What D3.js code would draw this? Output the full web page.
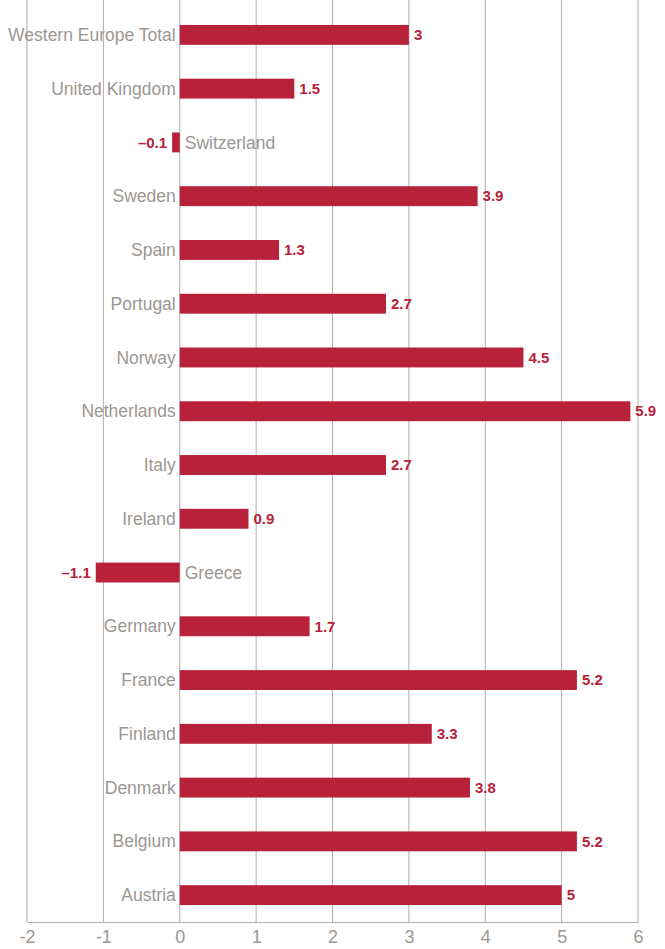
<!DOCTYPE html>
<html>
<head>
<meta charset="utf-8">
<script src="https://cdn.jsdelivr.net/npm/d3@7"></script>
<style>
  body { margin: 0; background: #fff; }
  svg { display: block; font-family: "Liberation Sans", Arial, sans-serif; }
</style>
</head>
<body>
<svg id="chart" width="665" height="949"></svg>
<script>
// Data, top row first
const countries = ['Western Europe Total', 'United Kingdom', 'Switzerland', 'Sweden', 'Spain',
    'Portugal', 'Norway', 'Netherlands', 'Italy', 'Ireland', 'Greece', 'Germany',
    'France', 'Finland', 'Denmark', 'Belgium', 'Austria'];
const values = [3, 1.5, -0.1, 3.9, 1.3, 2.7, 4.5, 5.9, 2.7, 0.9, -1.1, 1.7, 5.2, 3.3, 3.8, 5.2, 5];
const tickValues = [-2, -1, 0, 1, 2, 3, 4, 5, 6];

const rows = countries.map((c, i) => ({ name: c, value: values[i] }));

const svg = d3.select('#chart');
const margin = { top: 8, left: 27, right: 27, bottom: 27 };
const width = 665, height = 949;

const x = d3.scaleLinear().domain([-2, 6]).range([margin.left, width - margin.right]);
const y = d3.scaleBand().domain(countries).range([margin.top, height - margin.bottom]).paddingInner(0.63).paddingOuter(0.315);

const gridColor = '#b3aea9';
const textColor = '#9c9792';
const barColor = '#b72139';
const fmt = v => (v < 0 ? '\u2013' + Math.abs(v) : String(v));

// gridlines
svg.append('g')
    .selectAll('line')
    .data(tickValues)
    .enter()
    .append('line')
    .attr('x1', d => x(d)).attr('x2', d => x(d))
    .attr('y1', 0).attr('y2', height - margin.bottom)
    .attr('stroke', gridColor)
    .attr('stroke-width', 1);

// bottom axis
const axis = svg.append('g')
    .attr('transform', `translate(0, ${height - margin.bottom})`)
    .call(d3.axisBottom(x).tickValues(tickValues).tickSize(0).tickPadding(8).tickFormat(d => d));
axis.select('.domain').attr('stroke', gridColor);
axis.selectAll('text')
    .attr('fill', textColor)
    .style('font-size', '18px')
    .style('font-family', '"Liberation Sans", Arial, sans-serif');

// bars
svg.append('g')
    .selectAll('rect')
    .data(rows)
    .enter()
    .append('rect')
    .attr('x', d => x(Math.min(0, d.value)))
    .attr('width', d => Math.abs(x(d.value) - x(0)))
    .attr('y', d => y(d.name))
    .attr('height', y.bandwidth())
    .attr('fill', barColor);

// category labels
svg.append('g')
    .selectAll('text')
    .data(rows)
    .enter()
    .append('text')
    .attr('x', d => d.value < 0 ? x(0) + 5 : x(0) - 4)
    .attr('y', d => y(d.name) + y.bandwidth() / 2)
    .attr('dy', '0.35em')
    .attr('text-anchor', d => d.value < 0 ? 'start' : 'end')
    .attr('fill', textColor)
    .style('font-size', '17.5px')
    .text(d => d.name);

// value labels
svg.append('g')
    .selectAll('text')
    .data(rows)
    .enter()
    .append('text')
    .attr('x', d => d.value < 0 ? x(d.value) - 5 : x(d.value) + 5)
    .attr('y', d => y(d.name) + y.bandwidth() / 2)
    .attr('dy', '0.35em')
    .attr('text-anchor', d => d.value < 0 ? 'end' : 'start')
    .attr('fill', barColor)
    .style('font-size', '15px')
    .style('font-weight', 'bold')
    .text(d => fmt(d.value));
</script>
</body>
</html>
